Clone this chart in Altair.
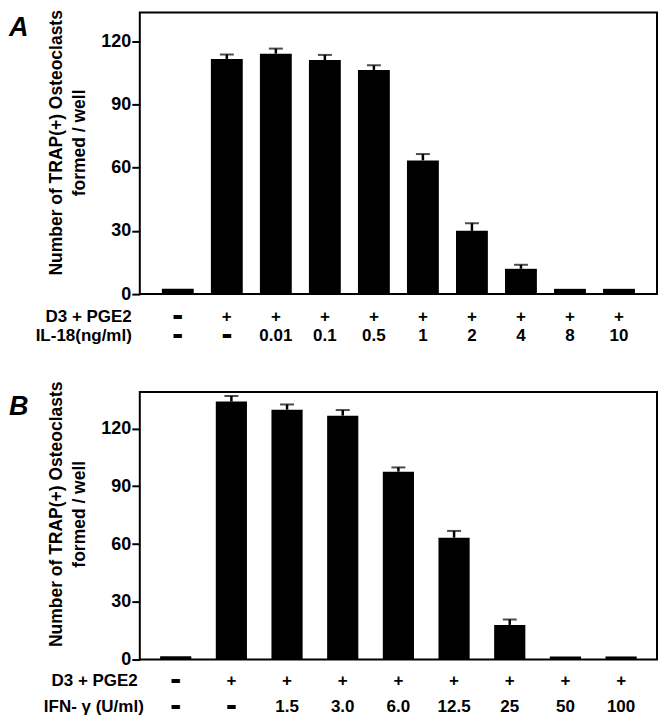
import altair as alt
import pandas as pd

FONT = "Liberation Sans"

# ---- Panel A data (IL-18) ----
a_d3 = ["-", "+", "+", "+", "+", "+", "+", "+", "+", "+"]
a_dose = ["-", "-", "0.01", "0.1", "0.5", "1", "2", "4", "8", "10"]
a_values = [2.5, 111.5, 114.0, 111.0, 106.3, 63.4, 30.0, 12.0, 2.5, 2.5]
a_err = [0, 2.1, 2.4, 2.4, 2.2, 3.0, 3.6, 1.9, 0, 0]

# ---- Panel B data (IFN-gamma) ----
b_d3 = ["-", "+", "+", "+", "+", "+", "+", "+", "+"]
b_dose = ["-", "-", "1.5", "3.0", "6.0", "12.5", "25", "50", "100"]
b_values = [1.7, 134.0, 129.8, 126.7, 97.6, 63.3, 18.0, 1.6, 1.6]
b_err = [0, 2.9, 2.7, 2.9, 2.2, 3.5, 2.8, 0, 0]

y_ticks = [0, 30, 60, 90, 120]
y_title = ["Number of TRAP(+) Osteoclasts", "formed / well"]


def panel(letter, d3, dose, values, err, dose_name, ymax, width, height,
          pin, pout, row1, row2, name_x1, name_x2, title_y):
    n = len(values)
    df = pd.DataFrame({"idx": list(range(n)), "d3": d3, "dose": dose,
                       "value": values, "err": err})
    df["upper"] = df["value"] + df["err"]
    df["d3s"] = ["▬" if s == "-" else s for s in d3]
    df["doses"] = ["▬" if s == "-" else s for s in dose]
    base = alt.Chart(df)
    x = alt.X("idx:O", axis=None,
              scale=alt.Scale(paddingInner=pin, paddingOuter=pout))
    yscale = alt.Scale(domain=[0, ymax], nice=False, zero=True)
    yaxis = alt.Axis(
        title=y_title, values=y_ticks, grid=False, domain=False,
        tickSize=8, tickWidth=2, tickColor="black",
        labelFont=FONT, labelFontSize=18, labelFontWeight="bold",
        labelColor="black", labelPadding=1,
        titleFont=FONT, titleFontSize=17.5, titleFontWeight="bold",
        titleColor="black", titleLineHeight=23, titlePadding=12,
        titleY=title_y,
    )
    bars = base.mark_bar(color="black").encode(
        x=x, y=alt.Y("value:Q", scale=yscale, axis=yaxis))
    errs = base.transform_filter("datum.err > 0").mark_rule(
        color="black", strokeWidth=2.5).encode(
        x=x, y=alt.Y("value:Q"), y2="upper:Q")
    caps = base.transform_filter("datum.err > 0").mark_tick(
        color="black", size=14, thickness=2, orient="horizontal").encode(
        x=x, y=alt.Y("upper:Q"))

    def row(field, ypos, dash):
        flt = f"datum.{field} == '▬'" if dash else f"datum.{field} != '▬'"
        return base.transform_filter(flt).mark_text(
            font=FONT if not dash else "DejaVu Sans",
            fontSize=17 if not dash else 11,
            fontWeight="bold", color="black", baseline="middle",
            align="center").encode(
            x=x, y=alt.value(ypos), text=f"{field}:N")

    r1 = row("d3s", height + row1, False)
    r1d = row("d3s", height + row1, True)
    r2 = row("doses", height + row2, False)
    r2d = row("doses", height + row2, True)

    names = alt.Chart(pd.DataFrame({"t": ["D3 + PGE2", dose_name],
                                    "k": [0, 1]}))
    n1 = names.transform_filter("datum.k == 0").mark_text(
        font=FONT, fontSize=17, fontWeight="bold", color="black",
        align="right", baseline="middle").encode(
        x=alt.value(name_x1), y=alt.value(height + row1), text="t:N")
    n2 = names.transform_filter("datum.k == 1").mark_text(
        font=FONT, fontSize=17, fontWeight="bold", color="black",
        align="right", baseline="middle").encode(
        x=alt.value(name_x2), y=alt.value(height + row2), text="t:N")

    lt = alt.Chart(pd.DataFrame({"t": [letter]})).mark_text(
        font=FONT, fontSize=27, fontWeight="bold", fontStyle="italic",
        color="black", align="left", baseline="middle").encode(
        x=alt.value(-131), y=alt.value(15), text="t:N")

    return alt.layer(bars, errs, caps, r1, r1d, r2, r2d, n1, n2, lt).properties(
        width=width, height=height)


pa = panel("A", a_d3, a_dose, a_values, a_err, "IL-18(ng/ml)", 133.5,
           518, 282, 0.35, 0.45, 23, 42, -8, -8, 130)
pb = panel("B", b_d3, b_dose, b_values, b_err, "IFN- γ (U/ml)", 139,
           518, 268, 0.44, 0.365, 21, 48, -2, 4, 122)

chart = alt.vconcat(pa, pb, spacing=35).properties(padding=0).configure_view(
    stroke="black", strokeWidth=2)

chart.save("out.html", embed_options={"renderer": "svg", "actions": False})
